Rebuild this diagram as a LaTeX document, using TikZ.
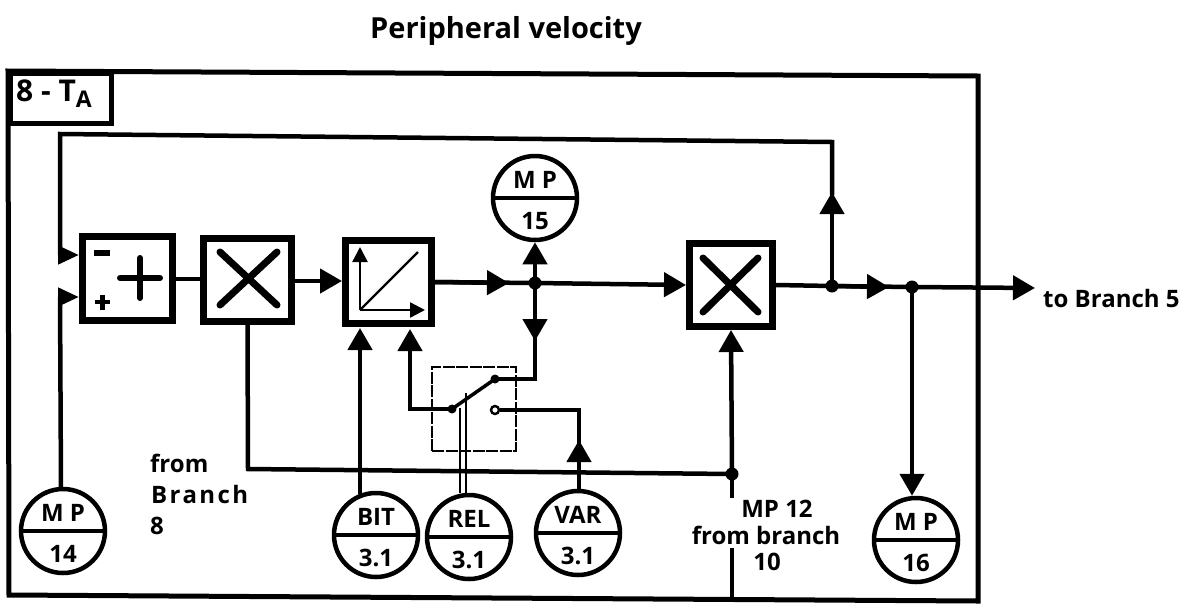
\documentclass[tikz,border=0pt]{standalone}
\usepackage{fontspec}
\setmainfont{Open Sans}
\usetikzlibrary{arrows.meta}
\tikzset{
  x=1pt,y=-1pt,
  block/.style={draw=black,fill=white,line width=7pt,inner sep=0pt},
  meter/.style={draw=black,fill=white,circle,line width=4.5pt,minimum size=84pt,inner sep=0pt},
  wire/.style={line width=4.5pt,draw=black},
  flow/.style={wire,-{Triangle[length=22pt,width=24pt]}},
  sideflow/.style={wire,-{Triangle[length=21pt,width=18pt]}},
  tinyflow/.style={line width=2.4pt,-{Triangle[length=15pt,width=15pt]}},
  dot/.style={circle,fill=black,minimum size=13pt,inner sep=0pt},
  txt/.style={font=\fontsize{24}{28}\selectfont\bfseries,inner sep=0pt},
  lbl/.style={font=\fontsize{24}{28}\selectfont\bfseries,inner sep=0pt},
  glyph/.style={line width=7pt,line cap=round},
}
\newcommand{\meterat}[5]{%
  \node[meter] (#1) at (#2,#3) {};
  \draw[line width=4.5pt] (#1.west) -- (#1.east);
  \node[txt] (#1a) at (#2,#3-18) {#4};
  \node[txt] (#1b) at (#2,#3+23) {#5};
}
\begin{document}
\begin{tikzpicture}
\useasboundingbox (0,0) rectangle (1183,611);
\fill[white] (0,0) rectangle (1183,611);
% title
\node[font=\fontsize{29}{34}\selectfont\bfseries,inner sep=0pt] (title) at (506,31) {Peripheral velocity};
% frame
\draw[line width=5pt,line join=miter] (8,71) -- (978,76) -- (978,601) -- (9,595) -- cycle;
\node[draw,line width=4.5pt,minimum width=101pt,minimum height=50pt,anchor=north west,inner sep=0pt] (tag) at (8,71) {};
\node[font=\fontsize{30}{32}\selectfont\bfseries,inner sep=0pt,anchor=west] (tagtext) at (16,94) {8 - T\raisebox{-6pt}{\fontsize{23}{24}\selectfont A}};
% blocks
\node[block,minimum width=90pt,minimum height=84pt] (sum) at (127.5,278.5) {};
\node[block,minimum width=88pt,minimum height=83pt] (m1) at (247.5,280) {};
\node[block,minimum width=86pt,minimum height=83pt] (conv) at (388.5,282) {};
\node[block,minimum width=83pt,minimum height=83pt] (m2) at (731,285) {};
% block glyphs
\draw[line width=6pt] (94,253) -- (110,253);
\draw[line width=4.5pt] (95,302) -- (110,302) (102.5,295) -- (102.5,310);
\draw[line width=6pt,line cap=round] (120,278) -- (160,278) (140,258) -- (140,298);
\draw[glyph] (220,252) -- (277,305) (220,305) -- (277,252);
\draw[glyph] (703,258) -- (758,312) (703,312) -- (758,258);
\coordinate (origin) at (360,310);
\coordinate (yaxis) at (360,247);
\coordinate (xaxis) at (425,310);
\coordinate (diag) at (418,252);
\draw[tinyflow] (origin) -- (yaxis);
\draw[tinyflow] (origin) -- (xaxis);
\draw[line width=2.4pt] (origin) -- (diag);
% meters
\meterat{mpf}{63}{531}{M P}{14}
\meterat{mpv}{535}{198}{M P}{15}
\meterat{mps}{916}{540}{M P}{16}
\meterat{bit}{376}{535}{BIT}{3.1}
\meterat{rel}{469}{537}{REL}{3.1}
\meterat{var}{578}{533}{VAR}{3.1}
% switch
\node[draw,dashed,dash pattern=on 12pt off 1.5pt,line width=1.6pt,minimum width=84pt,minimum height=84pt,inner sep=0pt] (swbox) at (474,409) {};
\node[dot,minimum size=9pt] (swa) at (452,409) {};
\node[dot,minimum size=9pt] (swb) at (495,379) {};
\node[circle,draw,line width=2.4pt,fill=white,minimum size=8pt,inner sep=0pt] (swc) at (495,410) {};
\draw[line width=3.5pt] (swa.center) -- (swb.center);
% junctions
\node[dot] (j1) at (535,283) {};
\node[dot] (j2) at (832,286) {};
\node[dot] (j3) at (912,287) {};
\node[dot] (j4) at (732,474) {};
\coordinate (out) at (1035,288);
% connectors
\coordinate (fbtop) at (60,134);
\coordinate (fbr) at (832,142);
\draw[flow] (j2.center) -- (832,192);
\draw[wire] (832,195) -- (fbr) -- (fbtop) -- (60,255);
\draw[sideflow] (60,255) -- (sum.west |- 0,255);
\draw[wire] (mpf.north -| 61,0) -- (60,297);
\draw[sideflow] (60,297) -- (sum.west |- 0,297);
\draw[wire] (sum.east |- 0,279) -- (m1.west |- 0,279);
\draw[flow] (m1.east |- 0,281) -- (conv.west |- 0,281);
\draw[wire] (conv.east) -- (j1.center);
\coordinate (tipa) at (509,283);
\draw[flow] (conv.east) -- (tipa);
\draw[flow] (j1.center) -- (mpv.south);
\draw[flow] (j1.center) -- (m2.west);
\draw[flow] (j1.center) -- (535,341);
\draw[wire] (535,338) -- (535,379) -- (swb.center);
\draw[wire] (swa.center) -- (410,409) -- (410,350);
\draw[flow] (410,360) -- (410,329);
\draw[flow] (360,494) -- (360,328);
\draw[flow] (var.north -| 579,0) -- (579,440);
\draw[wire] (579,445) -- (579,410) -- (swc.east);
\draw[line width=1.8pt] (460,493) -- (460,408) (466,493) -- (466,393);
\draw[wire] (m1.south) -- (248,469) -- (j4.center);
\draw[flow] (j4.center) -- (m2.south);
\draw[wire] (j4.center) -- (732,498);
\coordinate (stub) at (732,548);
\draw[wire] (stub) -- (732,599);
\draw[wire] (m2.east) -- (j2.center) -- (j3.center);
\coordinate (tipb) at (889,287);
\draw[flow] (j2.center) -- (tipb);
\draw[flow] (j3.center) -- (out);
\draw[flow] (j3.center) -- (mps.north -| 912,0);
% labels
\node[lbl,anchor=west] (lb5) at (1043,298) {to Branch 5};
\node[lbl,anchor=west] (lfrom1) at (150,463) {from};
\node[lbl,anchor=west] (lfrom2) at (151,494) {\addfontfeature{LetterSpace=10}Branch};
\node[lbl,anchor=west] (lfrom3) at (150,526) {8};
\node[lbl] (l1) at (777,509) {MP 12};
\node[lbl] (l2) at (766,535) {from branch};
\node[lbl] (l3) at (767,562) {10};
\end{tikzpicture}
\end{document}
